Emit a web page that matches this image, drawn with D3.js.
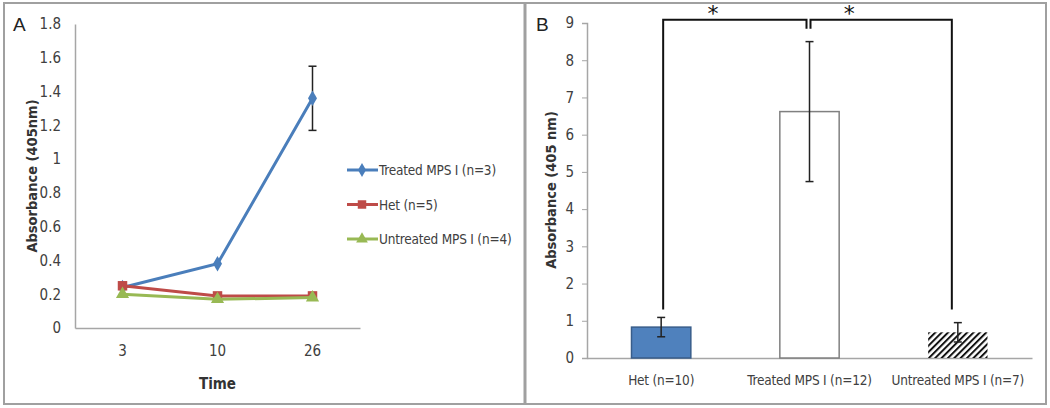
<!DOCTYPE html>
<html>
<head>
<meta charset="utf-8">
<script src="https://cdn.jsdelivr.net/npm/d3@7"></script>
<style>
  body { margin: 0; background: #fff; }
  svg { display: block; }
  text { font-family: "DejaVu Sans Condensed", "Open Sans", sans-serif; fill: #333; }
</style>
</head>
<body>
<svg width="1050" height="408"></svg>
<script>
// ---- data, panel A (time course)
const times = ['3', '10', '26'];
const treatedA = [0.24, 0.38, 1.36];
const hetA = [0.25, 0.19, 0.19];
const untreatedA = [0.20, 0.17, 0.18];
const treatedAErr = [0, 0, 0.19];
const seriesNamesA = ['Treated MPS I (n=3)', 'Het (n=5)', 'Untreated MPS I (n=4)'];
const ticksA = [0, 0.2, 0.4, 0.6, 0.8, 1, 1.2, 1.4, 1.6, 1.8];

// ---- data, panel B (bars)
const groupsB = ['Het (n=10)', 'Treated MPS I (n=12)', 'Untreated MPS I (n=7)'];
const meansB = [0.83, 6.62, 0.69];
const errB = [0.26, 1.88, 0.26];
const ticksB = [0, 1, 2, 3, 4, 5, 6, 7, 8, 9];
const bracketTop = 9.09;
const bracketBottom = 1.3;

const svg = d3.select('svg');

// hatch pattern for untreated bar
const defs = svg.append('defs');
defs.append('pattern')
    .attr('id', 'hatch')
    .attr('patternUnits', 'userSpaceOnUse')
    .attr('width', 4.5).attr('height', 4.5)
    .attr('patternTransform', 'rotate(45)')
  .append('line')
    .attr('x1', 1).attr('y1', 0).attr('x2', 1).attr('y2', 4.5)
    .attr('stroke', '#111').attr('stroke-width', 2);

// frames
svg.append('rect').attr('x', 4).attr('y', 3).attr('width', 1042).attr('height', 401)
    .attr('fill', 'none').attr('stroke', '#a0a0a0').attr('stroke-width', 2);
svg.append('line').attr('x1', 525).attr('x2', 525).attr('y1', 3).attr('y2', 404)
    .attr('stroke', '#a0a0a0').attr('stroke-width', 3);

const styleAxis = (a, size) => {
  a.select('.domain').attr('stroke', '#a6a6a6').attr('stroke-width', 1.5);
  a.selectAll('.tick line').attr('stroke', '#a6a6a6');
  a.selectAll('text').style('font-size', size).style('fill', '#404040');
};

// ================= panel A =================
const xA = d3.scaleBand().domain(times).range([75, 360]);
const yA = d3.scaleLinear().domain([0, 1.8]).range([328, 24]);
const cx = t => xA(t) + xA.bandwidth() / 2;

const gA = svg.append('g');
gA.append('text').attr('x', 13).attr('y', 31).text('A')
    .style('font-family', 'Liberation Sans, Arial, sans-serif').style('font-size', '19px').style('fill', '#222');

const axisYA = gA.append('g').attr('transform', 'translate(75,0)')
    .call(d3.axisLeft(yA).tickValues(ticksA).tickSize(0).tickPadding(14).tickFormat(d => d3.format('~g')(d)));
const axisXA = gA.append('g').attr('transform', 'translate(0,328)')
    .call(d3.axisBottom(xA).tickSize(0).tickPadding(17));
styleAxis(axisYA, '15px');
styleAxis(axisXA, '15px');

gA.append('text').attr('transform', 'translate(37,176) rotate(-90)')
    .attr('text-anchor', 'middle').style('font-weight', 'bold').style('font-size', '14.5px')
    .text('Absorbance (405nm)');
gA.append('text').attr('x', cx('10')).attr('y', 389).attr('text-anchor', 'middle')
    .style('font-weight', 'bold').style('font-size', '15px').text('Time');

const seriesA = [
  { name: seriesNamesA[0], vals: treatedA, color: '#4a7ebb', sym: d3.symbolDiamond, size: 70 },
  { name: seriesNamesA[1], vals: hetA, color: '#be4b48', sym: d3.symbolSquare, size: 90 },
  { name: seriesNamesA[2], vals: untreatedA, color: '#98b954', sym: d3.symbolTriangle, size: 75 }
];

// error bars for treated series
const errG = gA.append('g').attr('stroke', '#222').attr('stroke-width', 1.5);
times.forEach((t, i) => {
  if (!treatedAErr[i]) return;
  const x = cx(t), y1 = yA(treatedA[i] + treatedAErr[i]), y2 = yA(treatedA[i] - treatedAErr[i]);
  errG.append('line').attr('x1', x).attr('x2', x).attr('y1', y1).attr('y2', y2);
  errG.append('line').attr('x1', x - 4).attr('x2', x + 4).attr('y1', y1).attr('y2', y1);
  errG.append('line').attr('x1', x - 4).attr('x2', x + 4).attr('y1', y2).attr('y2', y2);
});

const line = d3.line().x((d, i) => cx(times[i])).y(d => yA(d));
seriesA.forEach(s => {
  gA.append('path').datum(s.vals).attr('d', line)
      .attr('fill', 'none').attr('stroke', s.color).attr('stroke-width', 3);
  gA.selectAll(null).data(s.vals).enter().append('path')
      .attr('transform', (d, i) => `translate(${cx(times[i])},${yA(d)})`)
      .attr('d', d3.symbol().type(s.sym).size(s.size))
      .attr('fill', s.color);
});

// legend
const legA = gA.append('g');
seriesA.forEach((s, i) => {
  const y = 170 + i * 34.5;
  legA.append('line').attr('x1', 347).attr('x2', 378).attr('y1', y).attr('y2', y)
      .attr('stroke', s.color).attr('stroke-width', 3);
  legA.append('path').attr('transform', `translate(362,${y})`)
      .attr('d', d3.symbol().type(s.sym).size(s.size * 0.8)).attr('fill', s.color);
  legA.append('text').attr('x', 379).attr('y', y + 5).style('font-size', '13.5px')
      .style('letter-spacing', '-0.2px').style('fill', '#404040').text(s.name);
});

// ================= panel B =================
const xB = d3.scaleBand().domain(groupsB).range([587, 1032]).paddingInner(0.6).paddingOuter(0.3);
const yB = d3.scaleLinear().domain([0, 9]).range([358, 23]);
const cB = g => xB(g) + xB.bandwidth() / 2;

const gB = svg.append('g');
gB.append('text').attr('x', 536).attr('y', 31).text('B')
    .style('font-family', 'Liberation Sans, Arial, sans-serif').style('font-size', '19px').style('fill', '#222');

const axisYB = gB.append('g').attr('transform', 'translate(587,0)')
    .call(d3.axisLeft(yB).tickValues(ticksB).tickSize(5).tickPadding(8));
const axisXB = gB.append('g').attr('transform', 'translate(0,358)')
    .call(d3.axisBottom(xB).tickSize(0).tickPadding(17));
styleAxis(axisYB, '15px');
styleAxis(axisXB, '13.5px');
axisXB.selectAll('text').style('letter-spacing', '-0.2px');

gB.append('text').attr('transform', 'translate(556,190) rotate(-90)')
    .attr('text-anchor', 'middle').style('font-weight', 'bold').style('font-size', '14.5px')
    .text('Absorbance (405 nm)');

const barStyle = [
  { fill: '#4f81bd', stroke: '#385d8a' },
  { fill: '#ffffff', stroke: '#808080' },
  { fill: 'url(#hatch)', stroke: 'none' }
];
gB.selectAll('.bar').data(groupsB).enter().append('rect')
    .attr('class', 'bar')
    .attr('x', g => xB(g)).attr('width', xB.bandwidth())
    .attr('y', (g, i) => yB(meansB[i])).attr('height', (g, i) => yB(0) - yB(meansB[i]))
    .attr('fill', (g, i) => barStyle[i].fill)
    .attr('stroke', (g, i) => barStyle[i].stroke).attr('stroke-width', 1.5);

const errBG = gB.append('g').attr('stroke', '#222').attr('stroke-width', 1.5);
groupsB.forEach((g, i) => {
  const x = cB(g), y1 = yB(meansB[i] + errB[i]), y2 = yB(meansB[i] - errB[i]);
  errBG.append('line').attr('x1', x).attr('x2', x).attr('y1', y1).attr('y2', y2);
  errBG.append('line').attr('x1', x - 4).attr('x2', x + 4).attr('y1', y1).attr('y2', y1);
  errBG.append('line').attr('x1', x - 4).attr('x2', x + 4).attr('y1', y2).attr('y2', y2);
});

// significance brackets
const br = gB.append('g').attr('fill', 'none').attr('stroke', '#111').attr('stroke-width', 2);
const yTop = yB(bracketTop), yBot = yB(bracketBottom), hook = 9;
const xHet = cB(groupsB[0]) + 2, xTr = cB(groupsB[1]), xUn = cB(groupsB[2]) - 6;
br.append('path').attr('d', `M${xHet},${yBot}V${yTop}H${xTr - 3}V${yTop + hook}`);
br.append('path').attr('d', `M${xTr + 1},${yTop + hook}V${yTop}H${xUn}V${yBot}`);
gB.append('text').attr('x', xHet + (xTr - xHet) * 0.34).attr('y', yTop + 1).attr('text-anchor', 'middle')
    .style('font-family', 'DejaVu Sans, sans-serif').style('font-size', '22px').style('fill', '#111').text('*');
gB.append('text').attr('x', xTr + (xUn - xTr) * 0.28).attr('y', yTop + 1).attr('text-anchor', 'middle')
    .style('font-family', 'DejaVu Sans, sans-serif').style('font-size', '22px').style('fill', '#111').text('*');
</script>
</body>
</html>
